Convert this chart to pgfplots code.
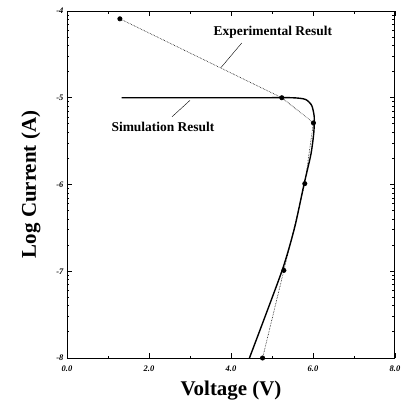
\documentclass[border=0pt]{standalone}
\usepackage{pgfplots}
\pgfplotsset{compat=1.18}
\usepackage{fontspec}
\setmainfont{Liberation Serif}
\begin{document}
\begin{tikzpicture}[x=1bp,y=1bp]
\begin{axis}[
  scale only axis,
  width=328bp, height=347bp,
  xmin=0, xmax=8, ymin=-8, ymax=-4,
  xtick={0,2,4,6,8},
  xticklabels={0.0,2.0,4.0,6.0,8.0},
  ytick={-8,-7,-6,-5,-4},
  minor x tick num=1,
  minor ytick={-7.699,-7.523,-7.398,-7.301,-7.222,-7.155,-7.097,-7.046,
               -6.699,-6.523,-6.398,-6.301,-6.222,-6.155,-6.097,-6.046,
               -5.699,-5.523,-5.398,-5.301,-5.222,-5.155,-5.097,-5.046,
               -4.699,-4.523,-4.398,-4.301,-4.222,-4.155,-4.097,-4.046},
  tick align=inside,
  major tick length=5bp,
  minor tick length=2.5bp,
  tick style={black, line width=0.8pt},
  axis line style={line width=1pt},
  ticklabel style={font=\bfseries\itshape\fontsize{8.5}{9}\selectfont},
  xticklabel style={yshift=-4bp},
  /pgf/number format/assume math mode=true,
  xlabel={\bfseries Voltage (V)},
  ylabel={\bfseries Log Current (A)},
  label style={font=\bfseries\fontsize{21}{24}\selectfont},
  xlabel style={yshift=-3bp},
  ylabel style={yshift=9bp},
  clip=false,
]
% Experimental
\addplot[black, densely dotted, line width=0.6pt, mark=*, mark size=2.2pt, mark options={solid}]
 coordinates {(1.29,-4.09) (5.24,-5.0) (6.01,-5.29) (5.80,-5.99) (5.29,-6.99) (4.77,-8.0)};
% Simulation
\addplot[black, line width=1.4pt, smooth, tension=0.4, mark=none]
 coordinates {(1.33,-5.0) (4.5,-5.0) (5.5,-5.0) (5.82,-5.02) (5.97,-5.09) (6.03,-5.22) (6.02,-5.4) (5.95,-5.65) (5.78,-6.0) (5.55,-6.5) (5.24,-7.0) (4.45,-8.0)};
\node[font=\bfseries\fontsize{13.5}{15}\selectfont] at (axis cs:5.02,-4.25) {Experimental Result};
\draw[black, line width=0.4pt] (axis cs:4.26,-4.37) -- (axis cs:3.76,-4.65);
\node[font=\bfseries\fontsize{13.5}{15}\selectfont] at (axis cs:2.34,-5.34) {Simulation Result};
\draw[black, line width=0.4pt] (axis cs:2.56,-5.22) -- (axis cs:3.0,-5.03);
\coordinate (bl) at (rel axis cs:0,0);
\coordinate (tr) at (rel axis cs:1,1);
\end{axis}
\pgfresetboundingbox
\path[use as bounding box] ([shift={(-67bp,-49bp)}]bl) rectangle ([shift={(7bp,11bp)}]tr);
\end{tikzpicture}
\end{document}
